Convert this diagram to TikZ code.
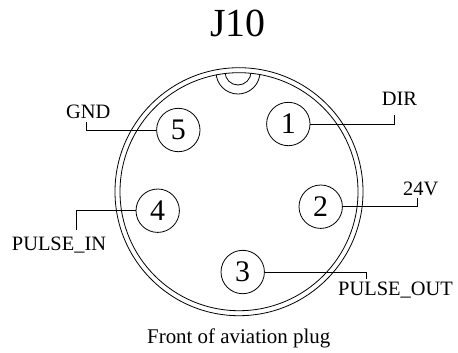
\documentclass[tikz,border=0pt]{standalone}
\usepackage{fontspec}
\setmainfont{Liberation Serif}
\tikzset{
  pin/.style={draw, circle, line width=0.8bp, minimum size=43.4bp, inner sep=0pt,
    font=\fontsize{30}{30}\selectfont},
  lbl/.style={inner sep=0pt, font=\fontsize{20.5}{20.5}\selectfont},
  lead/.style={line width=0.8bp}
}
\begin{document}
\begin{tikzpicture}[x=1bp, y=-1bp]
\useasboundingbox (0,0) rectangle (458,352);
  % shell of the plug
  \draw[line width=0.8bp] (239,191.7) circle (124);
  \draw[line width=0.8bp] (239,191.7) circle (119);
  % key at the top
  \begin{scope}
    \clip (239,191.7) circle (119);
    \draw[line width=0.8bp] (238,72) circle (22);
    \draw[line width=0.8bp] (238,72) circle (13);
  \end{scope}
  % pins
  \node[pin] (p1) at (288.3,124) {1};
  \node[pin] (p2) at (320.7,206.7) {2};
  \node[pin] (p3) at (242.7,272) {3};
  \node[pin] (p4) at (157.7,210.7) {4};
  \node[pin] (p5) at (178.3,130) {5};
  % ends of the leaders
  \coordinate (e1) at (394.3,115);
  \coordinate (e2) at (417.3,198.3);
  \coordinate (e3) at (366.7,279.3);
  \coordinate (e4) at (76.7,230);
  \coordinate (e5) at (86,121.7);
  \draw[lead] (p1.east) -| (e1);
  \draw[lead] (p2.east) -| (e2);
  \draw[lead] (p3.east) -| (e3);
  \draw[lead] (p4.west) -| (e4);
  \draw[lead] (p5.west) -| (e5);
  % signal names
  \node[lbl, anchor=base west] (dir) at (381.7,105) {DIR};
  \node[lbl, anchor=base west] (v24) at (403,195) {24V};
  \node[lbl, anchor=base west] (pout) at (338,295) {PULSE\_OUT};
  \node[lbl, anchor=base west] (pin) at (11.7,250) {PULSE\_IN};
  \node[lbl, anchor=base west] (gnd) at (66,118.3) {GND};
  % title and caption
  \node[inner sep=0pt, anchor=base, font=\fontsize{40}{40}\selectfont] (title) at (238,36.7) {J10};
  \node[inner sep=0pt, anchor=base, font=\fontsize{21}{21}\selectfont] (caption) at (238.7,343) {Front of aviation plug};
\end{tikzpicture}
\end{document}
